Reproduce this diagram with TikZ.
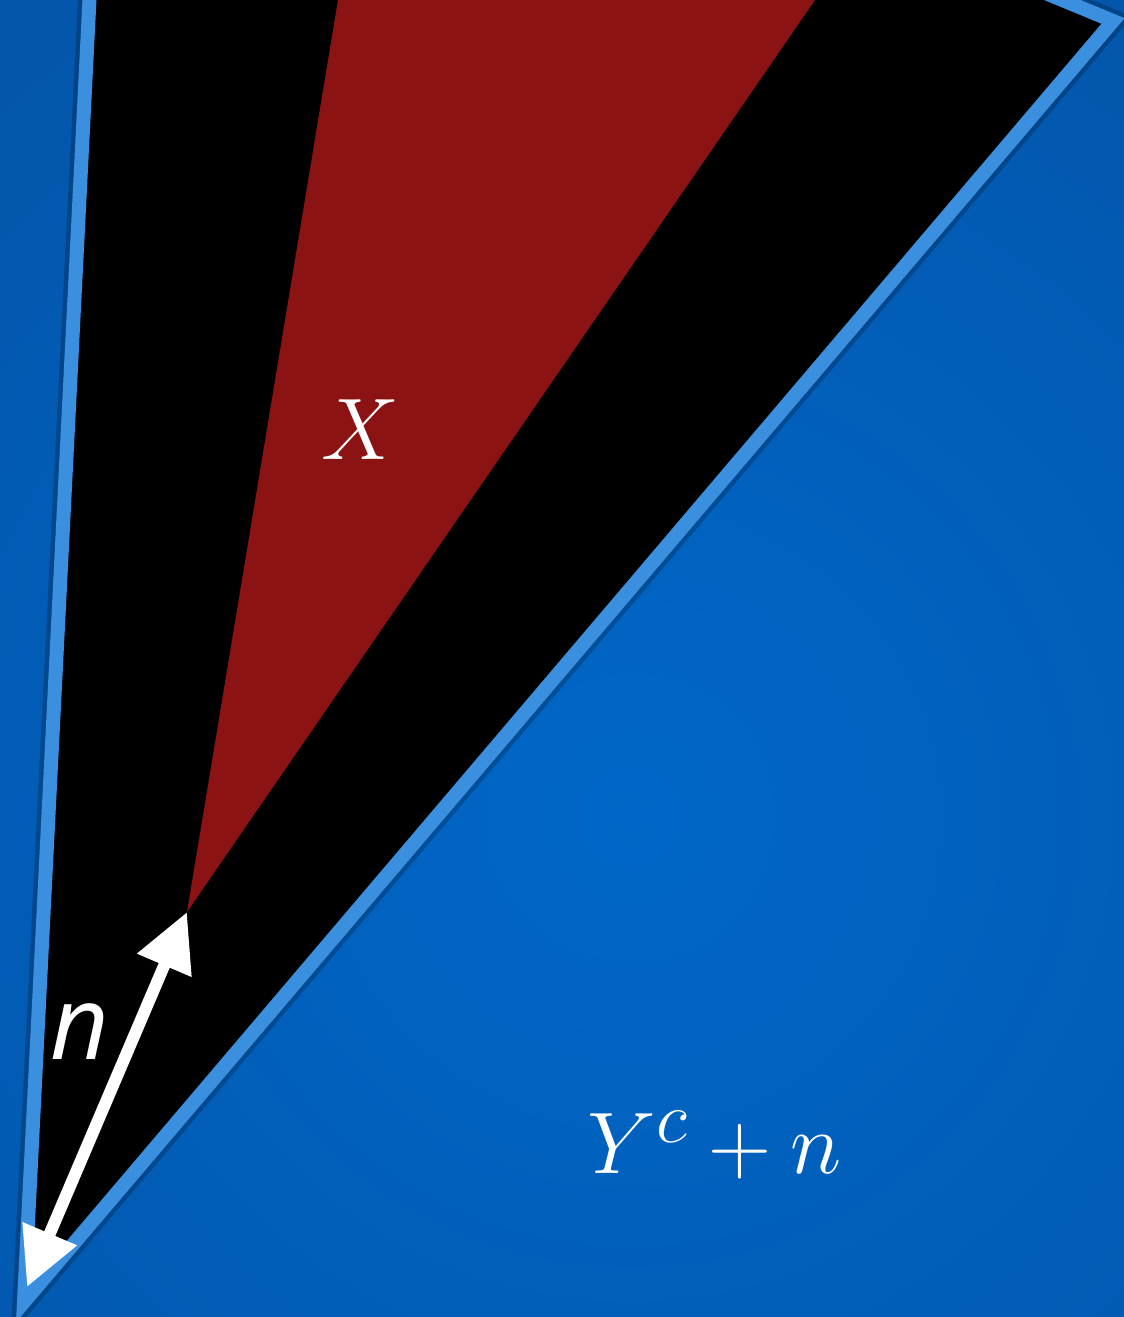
\documentclass[tikz,border=0pt]{standalone}
\usepackage{fontspec}
\newfontfamily\labelsans{Open Sans}
\usetikzlibrary{arrows.meta}
\definecolor{bgblue}{HTML}{0067C8}
\definecolor{bgdark}{HTML}{0452A4}
\definecolor{rimblue}{HTML}{3B8FDF}
\definecolor{wedgered}{HTML}{8B1313}
\begin{document}
\begin{tikzpicture}[
  mathlabel/.style={text=white, font=\fontsize{29}{34}\selectfont, inner sep=0pt},
  sanslabel/.style={text=white, font=\labelsans\itshape\fontsize{29}{34}\selectfont, inner sep=0pt},
  rim/.style={draw=rimblue, line width=1.4mm, line join=miter},
  gaparrow/.style={white, line width=1.2mm, {Triangle[length=5.8mm,width=5.6mm]}-{Triangle[length=5.8mm,width=5.6mm]}}
]
  \useasboundingbox (0,0) rectangle (11.24,13.17);
  \clip (0,0) rectangle (11.24,13.17);
  % background
  \shade[inner color=bgblue, outer color=bgdark] (6.3,5.0) circle (12);
  % cone corners
  \coordinate (apex) at (0.24,0.15);
  \coordinate (topleft) at (0.945,14.17);
  \coordinate (topright) at (9.56,13.61);
  \coordinate (corner) at (11.13,12.96);
  % shadow, cone, red wedge
  \draw[black, opacity=0.22, line width=2.3mm, line join=miter] (apex) -- (topleft) -- (topright) -- (corner) -- cycle;
  \fill[black] (apex) -- (topleft) -- (topright) -- (corner) -- cycle;
  \coordinate (tip) at (1.87,4.05);
  \fill[wedgered] (tip) -- (3.38,13.17) -- (8.15,13.17) -- cycle;
  \draw[rim] (apex) -- (topleft) -- (topright) -- (corner) -- cycle;
  % labels and the n arrow
  \node[mathlabel] (xlabel) at (3.60,8.87) {$X$};
  \node[mathlabel] (shifted) at (7.15,1.72) {$Y^c+n$};
  \node[sanslabel] (nlabel) at (0.80,2.85) {n};
  \coordinate (foot) at (0.27,0.30);
  \draw[gaparrow] (foot) -- (tip);
\end{tikzpicture}
\end{document}
